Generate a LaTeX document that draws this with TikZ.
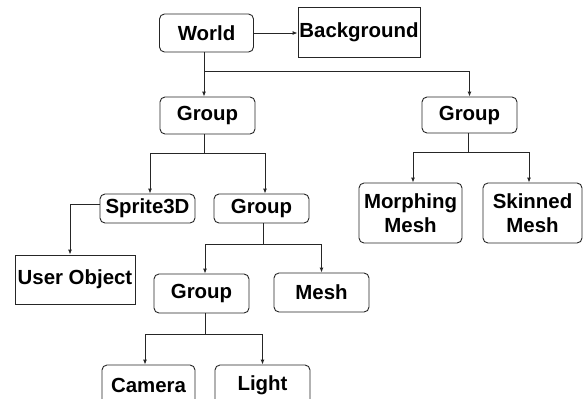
\documentclass[tikz,border=0pt]{standalone}
\usepackage{fontspec}
\setmainfont{Liberation Sans}
\usetikzlibrary{arrows.meta,calc}
\begin{document}
\begin{tikzpicture}[x=1bp,y=-1bp,
  every node/.style={font=\fontsize{20.5}{23.5}\selectfont\bfseries, inner sep=0pt, align=center, text=black},
  rbox/.style={draw=black!85, line width=0.9pt, rounded corners=5bp},
  sbox/.style={draw=black!85, line width=0.9pt},
  link/.style={draw=black!85, line width=0.9pt},
  arr/.style={link, -{Latex[length=5bp,width=4bp]}}]
\useasboundingbox[fill=white] (0,0) rectangle (583,398);

% scene graph nodes
\node[rbox, minimum width=94bp, minimum height=38bp] (world) at (206.5,33) {World};
\node[sbox, minimum width=122bp, minimum height=50bp] (bg) at (359,32) {Background};
\node[rbox, minimum width=95bp, minimum height=37bp] (g1) at (207.5,115.5) {Group};
\node[rbox, minimum width=95bp, minimum height=36bp] (gR) at (469.5,115) {Group};
\node[rbox, minimum width=95bp, minimum height=29bp] (sprite) at (147.5,208.5) {Sprite3D};
\node[rbox, minimum width=95bp, minimum height=29bp] (g2) at (261.5,208.5) {Group};
\node[sbox, minimum width=120bp, minimum height=49bp] (user) at (75,279.5) {User Object};
\node[rbox, minimum width=95bp, minimum height=39bp] (g3) at (201.5,293.5) {Group};
\node[rbox, minimum width=95bp, minimum height=39bp] (mesh) at (321.5,292.5) {Mesh};
\node[rbox, minimum width=103bp, minimum height=60bp] (morph) at (410.5,213) {Morphing\\Mesh};
\node[rbox, minimum width=99bp, minimum height=60bp] (skin) at (532.5,213) {Skinned\\Mesh};
\node[rbox, minimum width=93bp, minimum height=40bp] (camera) at (148.5,385) {Camera};
\node[rbox, minimum width=95bp, minimum height=40bp] (light) at (262.5,385) {Light};

% junction points of the branches
\coordinate (jw) at (204,71);
\coordinate (j1) at (204,153);
\coordinate (j2) at (263,244);
\coordinate (j3) at (205,334);
\coordinate (jR) at (468,152);

% connectors
\draw[arr] (world.east) -- (world.east -| bg.west);
\draw[arr] (jw |- world.south) -- (jw |- g1.north);
\draw[arr] (jw) -| (gR.north);

\draw[link] (j1 |- g1.south) -- (j1);
\draw[arr] (j1) -| ($(sprite.north)+(2.5,0)$);
\draw[arr] (j1) -| ($(g2.north)+(3.5,0)$);

\draw[arr] (sprite.west |- 0,204) -| ($(user.north)+(-5,0)$);

\draw[link] (j2 |- g2.south) -- (j2);
\draw[arr] (j2) -| ($(g3.north)+(3.5,0)$);
\draw[arr] (j2) -| (mesh.north);

\draw[link] (j3 |- g3.south) -- (j3);
\draw[arr] (j3) -| ($(camera.north)+(-3.5,0)$);
\draw[arr] (j3) -| (light.north);

\draw[link] (jR |- gR.south) -- (jR);
\draw[arr] (jR) -| ($(morph.north)+(2.5,0)$);
\draw[arr] (jR) -| ($(skin.north)+(-3.5,0)$);
\end{tikzpicture}
\end{document}
